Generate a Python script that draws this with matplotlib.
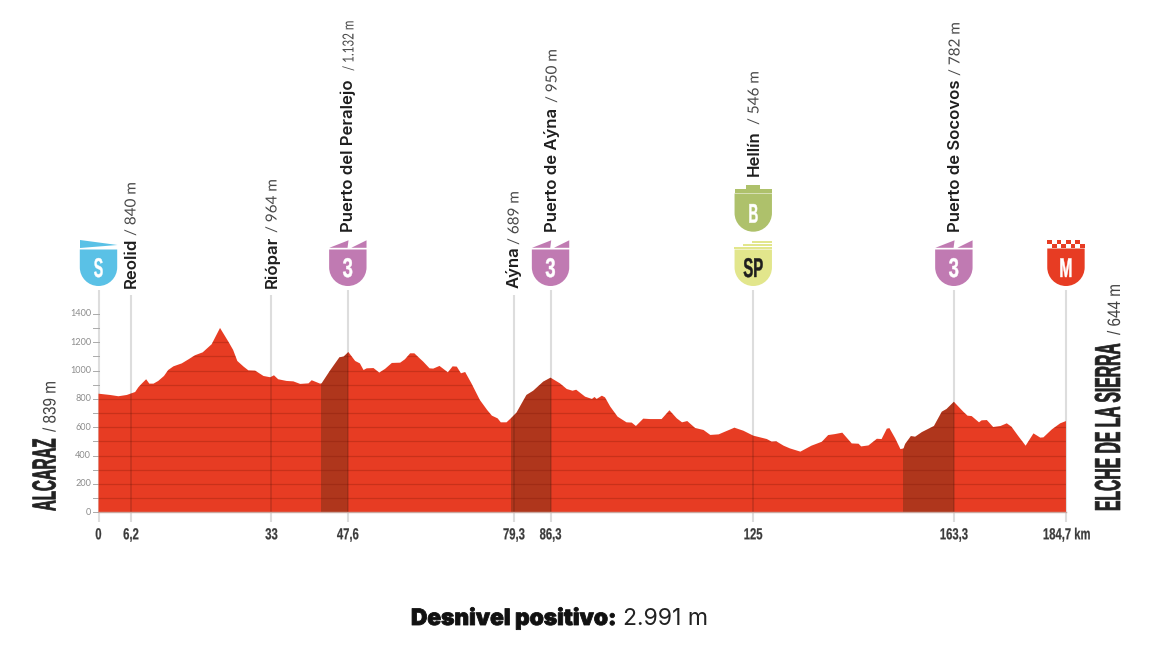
import matplotlib
matplotlib.use("Agg")
import matplotlib.pyplot as plt
from matplotlib.patches import Polygon, Rectangle, PathPatch
from matplotlib.path import Path
from matplotlib.patheffects import AbstractPathEffect
from matplotlib.transforms import Affine2D

# ---------- data ----------
km = [0, 2.2, 3.8, 5.4, 7.0, 7.6, 8.2, 9.1, 9.7, 10.5, 11.4, 12.5, 13.3, 14.3, 15.9, 17.2, 18.4, 19.9, 21.6, 23.2,
      24.8, 25.7, 26.5, 27.7, 28.6, 29.9, 31.5, 32.8, 33.5, 34.3, 35.9, 37.2, 38.5, 40.1, 40.7, 42.3, 42.6, 44.2, 46.0,
      46.8, 47.7, 49.0, 49.9, 50.6, 51.2, 52.5, 53.6, 54.7, 56.0, 57.6, 58.5, 59.5, 60.3, 61.1, 62.0, 63.2, 63.9, 65.1,
      66.7, 67.6, 68.4, 69.2, 70.0, 71.2, 72.8, 74.2, 75.1, 76.2, 76.8, 77.9, 78.9, 79.8, 80.8, 81.7, 83.0, 84.9, 86.3,
      88.1, 89.4, 90.5, 91.2, 92.9, 94.2, 94.7, 95.1, 96.1, 96.7, 97.7, 99.1, 100.8, 101.8, 102.6, 104.0, 105.3, 107.5,
      109.0, 110.4, 111.4, 112.4, 113.9, 115.5, 116.8, 118.4, 119.6, 121.4, 123.1, 125.0, 127.6, 128.5, 129.4, 130.8,
      132.0, 134.0, 136.1, 138.1, 139.3, 140.6, 142.0, 143.8, 145.1, 145.6, 147.0, 148.6, 149.5, 150.5, 151.0, 152.1,
      153.1, 153.7, 154.0, 155.1, 155.9, 157.2, 159.5, 161.0, 161.9, 163.3, 165.1, 165.9, 166.7, 168.1, 168.6, 169.6,
      170.8, 172.2, 173.4, 174.3, 175.6, 177.0, 178.5, 179.8, 180.4, 182.0, 183.6, 184.7]
ele = [837, 828, 819, 828, 849, 882, 906, 939, 908, 908, 927, 962, 1004, 1030, 1051, 1080, 1108, 1129, 1186, 1301,
       1204, 1146, 1068, 1028, 1002, 1000, 962, 953, 967, 939, 927, 924, 906, 910, 932, 908, 910, 1000, 1094,
       1099, 1131, 1068, 1051, 1004, 1016, 1018, 986, 1012, 1054, 1056, 1080, 1122, 1122, 1094, 1063, 1016, 1014, 1033,
       988, 1030, 1028, 981, 990, 910, 793, 722, 682, 663, 635, 635, 670, 703, 769, 828, 858, 922, 950,
       910, 870, 858, 865, 816, 800, 814, 800, 823, 811, 746, 675, 635, 633, 609, 661, 658, 658,
       720, 663, 635, 644, 595, 581, 546, 550, 569, 597, 576, 541, 517, 499, 501, 470,
       451, 428, 470, 498, 545, 552, 562, 486, 484, 465, 472, 519, 517, 590, 594, 522,
       446, 451, 482, 538, 533, 566, 609, 710, 729, 780, 710, 682, 679, 635, 649, 651,
       602, 609, 628, 604, 538, 470, 557, 527, 529, 585, 628, 644]
climbs = [(42.5, 47.7), (78.7, 86.4), (153.6, 163.3)]
line_km = [0, 6.2, 33, 47.6, 79.3, 86.3, 125, 163.3, 184.7]
line_top_m = [1570, 1535, 1535, 1570, 1535, 1570, 1570, 1570, 1570]
x_labels = ["0", "6,2", "33", "47,6", "79,3", "86,3", "125", "163,3", "184,7 km"]
y_ticks = list(range(0, 1500, 100))
y_labels = list(range(0, 1600, 200))
shield_km = [0, 47.6, 86.3, 125, 125, 163.3, 184.7]

# name, altitude text, x px, name start y, alt start y, altitude text width factor
places = [("Reolid", "/ 840 m", 130, 288, 236, 1.0),
          ("Riópar", "/ 964 m", 271, 288, 233, 1.0),
          ("Puerto del Peralejo", "/ 1.132 m", 348, 232, 71, 0.76),
          ("Aýna", "/ 689 m", 513, 288, 245, 1.0),
          ("Puerto de Aýna", "/ 950 m", 551, 232, 103, 1.0),
          ("Hellín", "/ 546 m", 753, 176, 125, 1.0),
          ("Puerto de Socovos", "/ 782 m", 954, 232, 76, 1.0)]

RED = "#E73C23"
W, H = 1156, 655
X0, PXKM, Y0, PXM = 98.5, 5.238, 512.3, 0.1417
COND = "Liberation Sans"


class Squeeze(AbstractPathEffect):
    """Rescales the glyphs of a text along / across its reading direction, with an optional extra stroke."""
    def __init__(self, sx, centre=False, stroke=0.0, sy=1.0):
        super().__init__()
        self.sx, self.centre, self.stroke, self.sy = sx, centre, stroke, sy

    def draw_path(self, renderer, gc, tpath, affine, rgbFace=None):
        c = 0
        if self.centre:
            e = tpath.get_extents()
            c = (e.x0 + e.x1) / 2
        t = Affine2D().translate(-c, 0).scale(self.sx, self.sy).translate(c, 0) + affine
        g = renderer.new_gc()
        g.copy_properties(gc)
        if self.stroke:
            g.set_linewidth(self.stroke)
            g.set_foreground(rgbFace)
        renderer.draw_path(g, tpath, t, rgbFace)
        g.restore()


fig = plt.figure(figsize=(W / 100, H / 100), dpi=100, facecolor="white")
ax = fig.add_axes([0, 0, 1, 1])
ax.set_xlim(-X0 / PXKM, (W - X0) / PXKM)
ax.set_ylim(-(H - Y0) / PXM, Y0 / PXM)
ax.axis("off")

# vertical marker lines behind the profile
for k, top in zip(line_km, line_top_m):
    ax.plot([k, k], [-70, top], color="#DDDDDD", lw=1.5, zorder=1, solid_capstyle="butt")

# profile
prof = Polygon(list(zip(km, ele)) + [(km[-1], 0), (km[0], 0)], closed=True, fc=RED, ec="none", zorder=2)
ax.add_patch(prof)
for a, b in climbs:
    s = ax.axvspan(a, b, ymin=0, ymax=1, color="#3A2A10", alpha=0.32, lw=0, zorder=3)
    s.set_clip_path(prof)
for m in y_ticks[1:13]:
    l, = ax.plot([0, 184.7], [m, m], color="#7A1505", alpha=0.28, lw=0.9, zorder=4)
    l.set_clip_path(prof)
for k in line_km[1:-1]:
    l, = ax.plot([k, k], [0, 1600], color="#401008", alpha=0.2, lw=1.3, zorder=4)
    l.set_clip_path(prof)
ax.plot([0, 184.7], [0, 0], color="#C9A8A0", lw=1, zorder=5)

# y axis
for m in y_ticks:
    ax.plot([-1.0, 0], [m, m], color="#AAAAAA", lw=0.7, zorder=1)
for m in y_labels:
    if m <= 1400:
        ax.annotate(str(m), (0, m), xytext=(-7.5, 0), textcoords="offset pixels", ha="right", va="center",
                    fontsize=6.6, color="#8C8C8C", family="Lato")

# x labels
for k, t in zip(line_km, x_labels):
    last = t.endswith("km")
    ax.annotate(t, (k, 0), xytext=(-23 if last else 0, -27), textcoords="offset pixels",
                ha="left" if last else "center", va="baseline",
                fontsize=8.1, color="#3A3A3A", family=COND, weight="bold",
                path_effects=[Squeeze(1.0, not last, 0.15, 1.42)])


def px_text(x, y, s, **kw):
    return fig.text(x / W, 1 - y / H, s, **kw)


# place labels
for name, alt, x, y1, y2, f in places:
    px_text(x + 5.5, y1, name, rotation=90, rotation_mode="anchor", ha="left", va="baseline",
            fontsize=12.0, weight="semibold", family="Inter", color="#1E1E1E")
    px_text(x + 5.5, y2, alt, rotation=90, rotation_mode="anchor", ha="left", va="baseline",
            fontsize=11 * f, family="Lato", color="#4A4A4A", path_effects=[Squeeze(1.0, False, 0.0, 1 / f)])

# start / finish names
px_text(55.5, 511, "ALCARAZ", rotation=90, rotation_mode="anchor", ha="left", va="baseline", fontsize=10.8,
        family=COND, weight="bold", color="#222222", path_effects=[Squeeze(1.0, False, 0.5, 2.22)])
px_text(55.5, 432, "/ 839 m", rotation=90, rotation_mode="anchor", ha="left", va="baseline", fontsize=11,
        family=COND, color="#444444", path_effects=[Squeeze(1.0, False, 0.0, 1.18)])
px_text(1120, 511, "ELCHE DE LA SIERRA", rotation=90, rotation_mode="anchor", ha="left", va="baseline",
        fontsize=11.3, family=COND, weight="bold", color="#222222", path_effects=[Squeeze(1.0, False, 0.5, 2.3)])
px_text(1120, 335, "/ 644 m", rotation=90, rotation_mode="anchor", ha="left", va="baseline", fontsize=11,
        family=COND, color="#444444", path_effects=[Squeeze(1.0, False, 0.0, 1.18)])

# bottom caption
px_text(411, 625, "Desnivel positivo:", ha="left", va="baseline", fontsize=16.3, weight="black", family="Inter",
        color="#111111", path_effects=[Squeeze(1.0, False, 0.6)])
px_text(623, 625, "2.991 m", ha="left", va="baseline", fontsize=16.6, family="Inter", weight="normal", color="#222222")


# shields (overlay in pixel coordinates, y downward)
ov = fig.add_axes([0, 0, 1, 1], facecolor="none")
ov.set_xlim(0, W)
ov.set_ylim(H, 0)
ov.axis("off")


def km_px(k):
    return X0 + k * PXKM


def shield(cx, top, bottom, color, label, sx, tcolor="white"):
    r = 18.7
    ym = bottom - r
    k = 0.5523 * r
    v = [(cx - r, top), (cx + r, top), (cx + r, ym),
         (cx + r, ym + k), (cx + k, bottom), (cx, bottom),
         (cx - k, bottom), (cx - r, ym + k), (cx - r, ym), (cx - r, top)]
    c = [Path.MOVETO, Path.LINETO, Path.LINETO, Path.CURVE4, Path.CURVE4, Path.CURVE4,
         Path.CURVE4, Path.CURVE4, Path.CURVE4, Path.CLOSEPOLY]
    ov.add_patch(PathPatch(Path(v, c), fc=color, ec="none"))
    ov.text(cx, bottom - 9, label, ha="center", va="baseline", fontsize=19.5, weight="bold",
            family=COND, color=tcolor, path_effects=[Squeeze(sx, True, 0.3)])


PURPLE, BLUE, GREEN, YELLOW = "#C07AB2", "#5AC1E6", "#AEC16B", "#E2E68C"


def teeth(cx):
    ov.add_patch(Polygon([(cx - 18.5, 247.8), (cx + 0.7, 240.3), (cx - 0.3, 247.8)], fc=PURPLE, ec="none"))
    ov.add_patch(Polygon([(cx + 3.5, 247.8), (cx + 18.7, 240.3), (cx + 18.7, 247.8)], fc=PURPLE, ec="none"))


# S
cx = km_px(shield_km[0])
shield(cx, 249.5, 286, BLUE, "S", 0.52)
ov.add_patch(Polygon([(cx - 18.5, 240), (cx + 19, 245), (cx - 18.5, 248)], fc=BLUE, ec="none"))
# category 3 climbs
for k in (shield_km[1], shield_km[2], shield_km[5]):
    cx = km_px(k)
    shield(cx, 249.5, 286, PURPLE, "3", 0.68)
    teeth(cx)
# B
cx = km_px(shield_km[3])
shield(cx, 193.5, 231.7, GREEN, "B", 0.5)
ov.add_patch(Rectangle((cx - 18.7, 189), 37.4, 3.6, fc=GREEN, ec="none"))
ov.add_patch(Rectangle((cx - 7, 185), 14, 4.2, fc=GREEN, ec="none"))
# SP
shield(cx, 249.5, 286, YELLOW, "SP", 0.55, "#1E1E1E")
for y, left in ((241, -1), (244.2, -10), (247.4, -19)):
    ov.add_patch(Rectangle((cx + left, y), 19 - left, 1.7, fc=YELLOW, ec="none"))
# M
cx = km_px(shield_km[6])
shield(cx, 248.5, 286, RED, "M", 0.58)
cw = 37.6 / 8
for i in range(8):
    y = 240 if i % 2 == 0 else 244
    ov.add_patch(Rectangle((cx - 18.8 + i * cw, y), cw, 4.2, fc=RED, ec="none"))

fig.savefig("out.png", dpi=100, facecolor="white")
